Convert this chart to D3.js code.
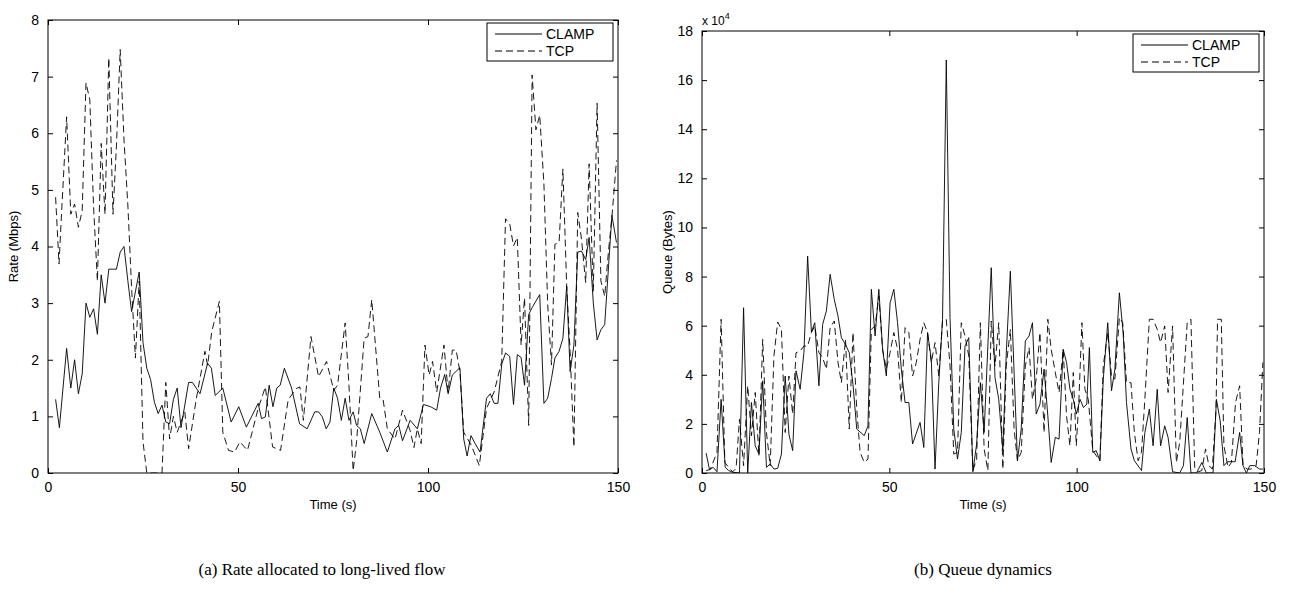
<!DOCTYPE html>
<html>
<head>
<meta charset="utf-8">
<script src="https://cdn.jsdelivr.net/npm/d3@7"></script>
<style>
  body { margin: 0; background: #fff; }
  svg { font-family: "Liberation Sans", Arial, sans-serif; }
  .tick text { font-size: 14px; fill: #000; }
  .caption { font-family: "Liberation Serif", "Times New Roman", serif; font-size: 17px; }
</style>
</head>
<body>
<div id="chart"></div>
<script>
// (time s, rate Mbps)
const rateClamp = [[2,1.3],[3,0.8],[4.9,2.2],[6,1.5],[7,2.0],[8,1.4],[9,1.75],[10,3.0],[11,2.75],[12,2.9],[13,2.45],[14,3.5],[15,3.0],[16,3.6],[18,3.6],[19,3.9],[20,4.0],[21,3.4],[22,2.85],[24,3.55],[25,2.3],[26,1.85],[27,1.65],[28,1.25],[29,1.05],[30,1.2],[31,0.9],[32,0.87],[33,1.3],[34,1.5],[35,0.8],[37,1.6],[38,1.6],[40,1.4],[42,1.94],[43,1.85],[44,1.37],[46,1.5],[48.2,0.9],[50.2,1.17],[52.2,0.81],[55.3,1.23],[56.2,0.96],[57.2,0.99],[58.2,1.55],[59.2,1.17],[60.2,1.5],[61.1,1.55],[62.2,1.85],[64.1,1.5],[66.2,0.87],[68.2,0.78],[70.2,1.08],[71.2,1.08],[72.2,0.99],[73.2,0.78],[74.2,0.9],[75.2,1.5],[76.2,1.32],[77.2,0.93],[78.2,1.32],[79.2,0.93],[80.3,1.08],[81.2,0.84],[82.2,0.78],[83.2,0.52],[85.2,1.05],[87.3,0.72],[89.3,0.37],[91.3,0.78],[92.3,0.84],[93.3,0.57],[95.3,0.93],[97.2,0.78],[98.8,1.21],[100.7,1.17],[102.3,1.11],[103.3,1.5],[104.4,1.74],[105.3,1.4],[106.4,1.73],[108.4,1.86],[109.4,0.6],[110.3,0.3],[111.3,0.66],[112.4,0.52],[113.7,0.37],[115.4,1.32],[116.4,1.4],[117.4,1.23],[118.4,1.23],[119.4,1.92],[120.4,2.12],[121.5,2.06],[122.5,1.21],[123.5,2.09],[124.5,2.04],[125.4,1.55],[126.5,2.8],[127.4,2.92],[129.4,3.15],[130.5,1.23],[131.5,1.32],[132.5,1.67],[133.4,2.03],[134.5,2.15],[135.5,2.38],[136.5,3.3],[137.4,1.79],[138.4,2.26],[139.4,3.9],[140.4,3.92],[141.5,3.77],[142.4,4.16],[143.5,3.0],[144.5,2.35],[145.5,2.53],[146.5,2.62],[148.4,4.55],[149.6,4.07]]

const rateTcp = [[2,4.87],[2.9,3.69],[3.6,4.63],[4.9,6.29],[6,4.57],[7,4.75],[8,4.34],[9,4.63],[10,6.89],[11,6.59],[12,4.69],[13,3.39],[14,5.82],[15,4.57],[16,7.33],[17.1,4.57],[18,5.76],[19,7.48],[20,5.88],[21,4.75],[22,3.27],[23,2.03],[24,3.39],[25,0.55],[26,0],[30,0],[31,1.6],[32,0.6],[33,1.0],[34,0.72],[36,1.08],[37,0.43],[39,1.3],[41.3,2.15],[42,1.9],[43.1,2.5],[45.1,3.03],[46,0.72],[47.5,0.4],[49.1,0.37],[50.5,0.55],[52.5,0.4],[55.3,1.14],[57.2,1.52],[59.1,0.46],[61.2,0.4],[63.2,1.29],[65.3,1.49],[66.3,1.52],[67.2,0.93],[69.2,2.41],[71.2,1.7],[73.3,1.97],[75.2,1.46],[76.2,1.55],[78.2,2.65],[79.2,1.55],[80.3,0.04],[81.2,0.55],[83.2,2.38],[84.2,2.41],[85.2,3.06],[87.3,1.32],[88.2,1.29],[89.3,0.78],[91.3,0.6],[93.3,1.11],[95.3,0.75],[96.3,0.45],[97.2,0.78],[98.2,0.52],[99.2,2.26],[100.3,1.73],[101.2,1.97],[102.3,1.43],[104.2,2.26],[105.3,1.43],[106.4,2.17],[107.4,2.17],[108.4,1.79],[109.4,0.72],[111.4,0.49],[113.5,0.13],[115.4,1.14],[117.4,1.43],[119.4,1.97],[120.4,4.49],[121.5,4.4],[122.5,4.01],[123.5,4.16],[124.5,2.26],[125.4,3.09],[126.5,0.84],[127.4,7.03],[128.4,6.06],[129.4,6.32],[130.5,5.11],[131.5,2.97],[132.5,1.91],[133.4,4.04],[134.5,4.07],[135.5,5.37],[136.5,3.3],[137.4,2.15],[138.4,0.46],[139.4,4.6],[140.4,4.13],[141.5,3.36],[142.4,5.46],[143.5,3.21],[144.5,6.53],[145.5,3.39],[146.5,3.12],[147.5,3.92],[148.4,4.52],[149.6,5.52]]

// (time s, queue in units of 10^4 bytes)
const queueClamp = [[1.1,0.81],[2,0.14],[3,0.23],[4,0.05],[5.1,3.0],[6.2,0.23],[7.1,0.1],[8.2,0.03],[10,0],[11.1,6.73],[12.2,0],[13.2,2.87],[14.2,1.11],[15.2,0.77],[16.2,3.75],[17.2,0.23],[18.2,0.37],[19.2,0.16],[20.2,0.19],[21.2,0.77],[22.2,3.95],[23.2,1.58],[24.2,0.91],[25.1,4.16],[26.2,3.41],[27.2,4.9],[28.2,8.83],[29.2,5.74],[30.1,6.12],[31.2,3.55],[32.2,6.05],[33.2,6.6],[34.2,8.09],[35.3,7.07],[36.3,6.39],[37.2,5.51],[38.3,5.24],[39.3,4.9],[40.3,3.6],[41.3,1.79],[43.3,1.52],[44.3,1.92],[45.2,7.48],[46.2,5.58],[47.2,7.48],[48.2,5.04],[49.2,3.95],[50.2,6.93],[51.2,7.48],[52.2,6.12],[53.2,4.23],[54.2,2.87],[55.2,2.87],[56.2,1.18],[58.2,2.06],[59.2,1.04],[60.2,5.72],[61.2,4.63],[62.2,0.16],[63.2,3.68],[64.2,6.26],[65.2,16.82],[66.2,6.33],[67.2,1.79],[68.2,0.57],[69.2,1.65],[70.2,5.17],[71.2,5.51],[72.3,0.05],[73.3,1.18],[74.3,3.68],[75.3,1.65],[76.3,5.17],[77.2,8.36],[78.2,3.89],[79.2,3.0],[80.3,0.91],[81.2,4.84],[82.3,8.22],[83.3,4.09],[84.2,0.5],[85.2,1.79],[86.3,5.38],[87.3,5.58],[88.2,6.12],[89.2,2.4],[90.2,2.8],[91.3,4.23],[92.3,2.33],[93.2,0.43],[94.3,1.45],[95.3,1.38],[96.4,5.04],[97.3,4.5],[98.2,3.41],[99.1,3.0],[99.9,2.4],[100.9,3.0],[101.8,2.67],[102.7,2.8],[103.4,5.11],[104.3,0.84],[105.2,0.91],[106.2,0.5],[107.1,3.82],[108.3,6.12],[109.3,3.35],[110.2,4.23],[111.4,7.34],[112.4,5.72],[113.3,2.87],[114.5,0.98],[115.4,0.5],[117.3,0.1],[118.2,1.65],[119.4,2.6],[120.4,1.11],[121.5,3.41],[122.4,1.11],[123.5,1.92],[124.4,1.45],[125.6,0.05],[127.5,0],[128.5,0.3],[129.5,2.26],[130.5,0],[132,0],[133.4,0.43],[134.6,0],[136.4,0],[137.3,3.0],[138.3,2.13],[139.3,0.3],[140.3,0.46],[142.3,0.46],[143.5,1.65],[144.4,0.3],[145.3,0],[146.2,0.3],[147.5,0.3],[148.8,0.16],[149.7,0.16]]

const queueTcp = [[1.1,0.1],[2.2,0.14],[4,0.84],[5.1,6.26],[6.1,0.43],[7.1,0.23],[8.2,0.05],[9.1,0.19],[10,2.19],[11.1,0.3],[12.2,3.55],[13.2,1.52],[14.2,3.28],[15.2,0.7],[16.2,5.44],[17.2,1.65],[18.2,0.3],[19.2,4.77],[20.2,6.15],[21.2,5.85],[22.2,1.65],[23.2,3.95],[24.2,2.4],[25.1,4.9],[26.2,4.97],[27.2,5.17],[28.2,5.17],[29.2,5.72],[30.1,5.99],[31.2,4.9],[32.2,4.7],[33.2,4.23],[34.2,5.92],[35.3,6.19],[36.3,4.5],[37.2,3.68],[38.3,5.44],[39.3,1.79],[40.3,5.72],[41.3,2.6],[42.2,0.84],[43.3,0.43],[44.3,0.57],[45.2,5.85],[46.2,5.99],[47.2,7.2],[48.2,5.04],[49.2,4.23],[50.2,4.9],[51.2,5.72],[52.2,5.04],[53.2,2.87],[54.2,5.92],[55.2,5.72],[56.2,3.95],[57.2,4.5],[58.2,5.44],[59.2,6.12],[60.2,5.72],[61.2,4.5],[62.2,5.31],[63.2,3.95],[64.2,6.19],[65.2,6.26],[66.2,4.36],[67.2,0.77],[68.2,0.84],[69.2,6.12],[70.2,5.58],[71.2,4.77],[72.3,0.1],[73.3,0.57],[74.3,6.12],[75.3,0.98],[76.3,0.1],[77.2,6.19],[78.2,4.36],[79.2,6.12],[80.3,0.16],[81.2,4.36],[82.3,5.85],[83.3,1.79],[84.2,0.5],[85.2,0.84],[86.3,4.36],[87.3,5.11],[88.2,3.0],[89.2,3.82],[90.2,5.72],[91.3,1.65],[92.3,6.26],[93.2,5.04],[94.3,4.09],[95.3,3.28],[96.4,5.04],[97.3,2.33],[98.2,1.11],[99.1,4.09],[99.9,1.11],[100.6,3.0],[101.4,6.12],[102.2,3.41],[103.1,3.0],[104.3,0.91],[106.2,0.5],[107.1,4.36],[108.3,5.72],[109.3,3.95],[110.2,3.82],[111.4,6.33],[112.3,6.12],[113.3,3.68],[114.5,3.68],[115.4,1.65],[116.4,0.5],[117.3,0.84],[118.2,3.0],[119.4,6.26],[120.4,6.26],[121.5,5.85],[122.4,5.31],[123.5,5.99],[124.4,3.28],[125.6,5.99],[126.6,0.43],[127.5,1.25],[128.4,3.41],[129.5,6.12],[130.5,6.26],[131.5,0.23],[132.5,0.05],[133.4,0.1],[134.4,0.98],[135.3,0.3],[136.2,0.16],[137.2,2.6],[137.6,6.26],[138.6,6.26],[139.3,1.11],[140.4,0.23],[141.3,0.43],[142.4,2.87],[143.5,3.55],[144.4,0.3],[145.5,0.16],[146.6,0.16],[147.9,0.3],[148.8,1.65],[149.7,4.5]]

const xTicks = [0, 50, 100, 150]
const rateTicks = [0, 1, 2, 3, 4, 5, 6, 7, 8]
const queueTicks = [0, 2, 4, 6, 8, 10, 12, 14, 16, 18]
const seriesNames = ['CLAMP', 'TCP']

const width = 1289
const height = 593

const svg = d3.select('#chart')
  .append('svg')
  .attr('width', width)
  .attr('height', height)

function panel(opts) {
  const { left, right, top, bottom } = opts

  const xScale = d3.scaleLinear().domain([0, 150]).range([left, right])
  const yScale = d3.scaleLinear().domain(opts.yDomain).range([bottom, top])

  const g = svg.append('g')

  // clip
  const clipId = 'clip-' + opts.id
  g.append('clipPath').attr('id', clipId)
    .append('rect')
    .attr('x', left).attr('y', top)
    .attr('width', right - left).attr('height', bottom - top)

  const line = d3.line()
    .x(d => xScale(d[0]))
    .y(d => yScale(d[1]))

  const lines = g.append('g').attr('clip-path', `url(#${clipId})`)

  lines.append('path')
    .datum(opts.tcp)
    .attr('d', line)
    .attr('fill', 'none')
    .attr('stroke', '#000')
    .attr('stroke-width', 0.9)
    .attr('stroke-dasharray', '7,4')

  lines.append('path')
    .datum(opts.clamp)
    .attr('d', line)
    .attr('fill', 'none')
    .attr('stroke', '#000')
    .attr('stroke-width', 0.9)

  // axes, ticks pointing inward like matlab
  const xAxis = d3.axisBottom(xScale).tickValues(xTicks).tickSizeInner(-5).tickSizeOuter(0).tickPadding(9)
  const xAxisTop = d3.axisTop(xScale).tickValues(xTicks).tickSizeInner(-5).tickSizeOuter(0).tickFormat('')
  const yAxis = d3.axisLeft(yScale).tickValues(opts.yTicks).tickSizeInner(-5).tickSizeOuter(0).tickPadding(9)
  const yAxisRight = d3.axisRight(yScale).tickValues(opts.yTicks).tickSizeInner(-5).tickSizeOuter(0).tickFormat('')

  g.append('g').attr('transform', `translate(0,${bottom})`).call(xAxis)
  g.append('g').attr('transform', `translate(0,${top})`).call(xAxisTop)
  g.append('g').attr('transform', `translate(${left},0)`).call(yAxis)
  g.append('g').attr('transform', `translate(${right},0)`).call(yAxisRight)

  g.selectAll('.domain').remove()
  g.selectAll('.tick line').attr('stroke', '#000')

  // box
  g.append('rect')
    .attr('x', left).attr('y', top)
    .attr('width', right - left).attr('height', bottom - top)
    .attr('fill', 'none')
    .attr('stroke', '#000')
    .attr('stroke-width', 1)

  // labels
  g.append('text')
    .attr('x', (left + right) / 2)
    .attr('y', bottom + 36)
    .attr('text-anchor', 'middle')
    .attr('font-size', 13)
    .text('Time (s)')

  g.append('text')
    .attr('transform', `translate(${left - 30},${(top + bottom) / 2}) rotate(-90)`)
    .attr('text-anchor', 'middle')
    .attr('font-size', 13)
    .text(opts.yLabel)

  // legend
  const lg = g.append('g').attr('transform', `translate(${right - 131},${top + 3})`)
  lg.append('rect')
    .attr('width', 126).attr('height', 38)
    .attr('fill', '#fff').attr('stroke', '#000')
  seriesNames.forEach((name, i) => {
    lg.append('line')
      .attr('x1', 8).attr('x2', 55)
      .attr('y1', 11 + i * 17).attr('y2', 11 + i * 17)
      .attr('stroke', '#000')
      .attr('stroke-dasharray', i ? '7,4' : null)
    lg.append('text')
      .attr('x', 59).attr('y', 11 + i * 17)
      .attr('dy', '0.35em')
      .attr('font-size', 14)
      .text(name)
  })

  // caption
  svg.append('text')
    .attr('class', 'caption')
    .attr('x', opts.captionX)
    .attr('y', 575)
    .attr('text-anchor', 'middle')
    .text(opts.caption)

  return g
}

panel({
  id: 'rate', left: 48, right: 618, top: 20, bottom: 473,
  yDomain: [0, 8], yTicks: rateTicks, yLabel: 'Rate (Mbps)',
  clamp: rateClamp, tcp: rateTcp,
  caption: '(a) Rate allocated to long-lived flow', captionX: 322
})

const qp = panel({
  id: 'queue', left: 702, right: 1264, top: 31, bottom: 473,
  yDomain: [0, 18], yTicks: queueTicks, yLabel: 'Queue (Bytes)',
  clamp: queueClamp, tcp: queueTcp,
  caption: '(b) Queue dynamics', captionX: 983
})

// exponent label
const expo = qp.append('text').attr('x', 702).attr('y', 25).attr('font-size', 12)
expo.append('tspan').text('x 10')
expo.append('tspan').attr('dy', -6).attr('font-size', 9).text('4')
</script>
</body>
</html>
